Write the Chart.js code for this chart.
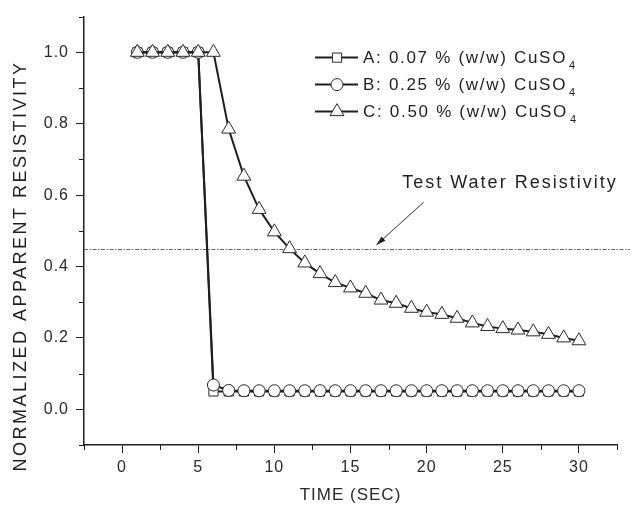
<!DOCTYPE html>
<html lang="en">
<head>
<meta charset="UTF-8">
<title>Normalized Apparent Resistivity</title>
<script src="https://cdn.jsdelivr.net/npm/chart.js"></script>
<style>
    html, body {
        margin: 0;
        padding: 0;
        background: #fff;
    }
    #wrap {
        width: 633px;
        height: 510px;
    }
</style>
</head>
<body>
<div id="wrap"><canvas id="chart"></canvas></div>
<script>
// time axis (seconds)
const timeSec = [1, 2, 3, 4, 5, 6, 7, 8, 9, 10, 11, 12, 13, 14, 15, 16, 17, 18, 19, 20,
                 21, 22, 23, 24, 25, 26, 27, 28, 29, 30];

// A: 0.07 % CuSO4
const seriesA = [1, 1, 1, 1, 1, 0.05, 0.05, 0.05, 0.05, 0.05, 0.05, 0.05, 0.05, 0.05, 0.05,
                 0.05, 0.05, 0.05, 0.05, 0.05, 0.05, 0.05, 0.05, 0.05, 0.05, 0.05, 0.05, 0.05, 0.05, 0.05];
// B: 0.25 % CuSO4
const seriesB = [1, 1, 1, 1, 1, 0.068, 0.053, 0.052, 0.052, 0.052, 0.052, 0.052, 0.052, 0.052, 0.052,
                 0.052, 0.052, 0.052, 0.052, 0.052, 0.052, 0.052, 0.052, 0.052, 0.052, 0.052, 0.052, 0.052, 0.052, 0.052];
// C: 0.50 % CuSO4
const seriesC = [1, 1, 1, 1, 1, 1, 0.785, 0.653, 0.56, 0.497, 0.45, 0.41, 0.38, 0.355, 0.34,
                 0.325, 0.306, 0.297, 0.283, 0.272, 0.266, 0.255, 0.242, 0.232, 0.226, 0.222, 0.217, 0.21, 0.2, 0.192];

const seriesNames = ['A: 0.07 % (w/w) CuSO', 'B: 0.25 % (w/w) CuSO', 'C: 0.50 % (w/w) CuSO'];
const seriesMarkers = ['rect', 'circle', 'triangle'];

const xTicks = [0, 5, 10, 15, 20, 25, 30];
const yTicks = [0.0, 0.2, 0.4, 0.6, 0.8, 1.0];

// reference level + its label / arrow (data units)
const testWaterLevel = 0.45;
const testWaterLabel = 'Test Water Resistivity';
const labelAt = [18.4, 0.62];
const arrowFrom = [19.8, 0.58];
const arrowTo = [16.7, 0.46];

const INK = '#1f1f1f';
const FONT = "'Liberation Sans', Arial, sans-serif";

function toPoints(ys) {
    return timeSec.map((t, i) => ({ x: t, y: ys[i] }));
}

function isMajorX(v) { return xTicks.some(t => Math.abs(t - v) < 1e-6); }
function isMajorY(v) { return yTicks.some(t => Math.abs(t - v) < 1e-6); }

const datasetStyle = (marker, r, order) => ({
    borderColor: INK,
    borderWidth: 2,
    pointStyle: marker,
    pointRadius: r,
    pointHoverRadius: r,
    pointBackgroundColor: '#fff',
    pointBorderColor: '#2a2a2a',
    pointBorderWidth: 1,
    tension: 0,
    fill: false,
    order: order
});

// letter spacing for every text the chart draws
const spacingPlugin = {
    id: 'spacing',
    beforeDraw(chart) {
        chart.ctx.letterSpacing = '1px';
    }
};

// dashed reference line (runs under the data)
const refLinePlugin = {
    id: 'refLine',
    beforeDatasetsDraw(chart) {
        const { ctx, chartArea, scales } = chart;
        const y = Math.round(scales.y.getPixelForValue(testWaterLevel)) + 0.5;
        ctx.save();
        ctx.strokeStyle = '#666';
        ctx.lineWidth = 1;
        ctx.setLineDash([4, 1.5, 1.5, 1.5]);
        ctx.beginPath();
        ctx.moveTo(chartArea.left, y);
        ctx.lineTo(chart.width - 3, y);
        ctx.stroke();
        ctx.restore();
    }
};

// minor ticks, annotation, legend, y title
const decorPlugin = {
    id: 'decor',
    afterDraw(chart) {
        const { ctx, chartArea, scales } = chart;
        const xs = scales.x, ys = scales.y;
        ctx.save();
        ctx.strokeStyle = INK;
        ctx.lineWidth = 1;
        xs.ticks.forEach(t => {
            if (isMajorX(t.value)) return;
            const px = Math.round(xs.getPixelForValue(t.value)) + 0.5;
            ctx.beginPath();
            ctx.moveTo(px, chartArea.bottom);
            ctx.lineTo(px, chartArea.bottom + 5);
            ctx.stroke();
        });
        ys.ticks.forEach(t => {
            if (isMajorY(t.value)) return;
            const py = Math.round(ys.getPixelForValue(t.value)) + 0.5;
            ctx.beginPath();
            ctx.moveTo(chartArea.left, py);
            ctx.lineTo(chartArea.left - 5, py);
            ctx.stroke();
        });

        // annotation
        ctx.fillStyle = INK;
        ctx.letterSpacing = '2px';
        ctx.font = '18px ' + FONT;
        ctx.textAlign = 'left';
        ctx.textBaseline = 'alphabetic';
        ctx.fillText(testWaterLabel, xs.getPixelForValue(labelAt[0]), ys.getPixelForValue(labelAt[1]));

        const ax0 = xs.getPixelForValue(arrowFrom[0]), ay0 = ys.getPixelForValue(arrowFrom[1]);
        const ax1 = xs.getPixelForValue(arrowTo[0]), ay1 = ys.getPixelForValue(arrowTo[1]);
        const ang = Math.atan2(ay1 - ay0, ax1 - ax0);
        ctx.strokeStyle = '#333';
        ctx.beginPath();
        ctx.moveTo(ax0, ay0);
        ctx.lineTo(ax1, ay1);
        ctx.stroke();
        ctx.beginPath();
        ctx.moveTo(ax1, ay1);
        ctx.lineTo(ax1 - 10 * Math.cos(ang - 0.3), ay1 - 10 * Math.sin(ang - 0.3));
        ctx.lineTo(ax1 - 10 * Math.cos(ang + 0.3), ay1 - 10 * Math.sin(ang + 0.3));
        ctx.closePath();
        ctx.fill();

        // legend
        const lx = chartArea.left + 231;
        chart.data.datasets.forEach((ds, i) => {
            const ly = chartArea.top + 41 + i * 27;
            ctx.strokeStyle = INK;
            ctx.lineWidth = 2;
            ctx.beginPath();
            ctx.moveTo(lx, ly);
            ctx.lineTo(lx + 43, ly);
            ctx.stroke();
            ctx.fillStyle = '#fff';
            ctx.strokeStyle = '#2a2a2a';
            ctx.lineWidth = 1;
            Chart.helpers.drawPoint(ctx, {
                pointStyle: ds.pointStyle,
                radius: ds.pointRadius,
                borderWidth: 1
            }, lx + 22, ly);
            ctx.fillStyle = INK;
            ctx.font = '17px ' + FONT;
            ctx.letterSpacing = '1.7px';
            ctx.textBaseline = 'middle';
            ctx.fillText(seriesNames[i], lx + 48, ly + 1);
            const w = ctx.measureText(seriesNames[i]).width;
            ctx.font = '11px ' + FONT;
            ctx.letterSpacing = '0px';
            ctx.fillText('4', lx + 48 + w + 2, ly + 8);
        });

        // y axis title
        ctx.translate(21, 266);
        ctx.rotate(-Math.PI / 2);
        ctx.font = '18px ' + FONT;
        ctx.letterSpacing = '2.5px';
        ctx.textAlign = 'center';
        ctx.textBaseline = 'middle';
        ctx.fillText('NORMALIZED APPARENT RESISTIVITY', 0, 0);
        ctx.restore();
    }
};

const ctx = document.getElementById('chart').getContext('2d');

const chart = new Chart(ctx, {
    type: 'line',
    data: {
        datasets: [
            { label: seriesNames[0], data: toPoints(seriesA), ...datasetStyle(seriesMarkers[0], 6.5, 3) },
            { label: seriesNames[1], data: toPoints(seriesB), ...datasetStyle(seriesMarkers[1], 6, 2) },
            { label: seriesNames[2], data: toPoints(seriesC), ...datasetStyle(seriesMarkers[2], 8, 1) }
        ]
    },
    options: {
        responsive: true,
        maintainAspectRatio: false,
        animation: false,
        events: [],
        layout: { padding: { top: 13, right: 16, left: 0, bottom: 0 } },
        plugins: {
            legend: { display: false },
            tooltip: { enabled: false }
        },
        scales: {
            x: {
                type: 'linear',
                min: -2.5,
                max: 32.5,
                afterFit: s => { s.height = 65; },
                border: { color: INK, width: 1.5 },
                grid: {
                    drawOnChartArea: false,
                    tickLength: 8,
                    tickWidth: 1,
                    tickColor: c => isMajorX(c.tick.value) ? INK : 'rgba(0,0,0,0)'
                },
                ticks: {
                    stepSize: 2.5,
                    autoSkip: false,
                    maxRotation: 0,
                    padding: 5,
                    color: '#2a2a2a',
                    font: { family: FONT, size: 16 },
                    callback: v => isMajorX(v) ? String(v) : ''
                },
                title: {
                    display: true,
                    text: 'TIME (SEC)',
                    color: '#2a2a2a',
                    font: { family: FONT, size: 17 },
                    padding: { top: 0, bottom: 4 }
                }
            },
            y: {
                type: 'linear',
                min: -0.1,
                max: 1.1,
                afterFit: s => { s.width = 84; },
                border: { color: INK, width: 1.5 },
                grid: {
                    drawOnChartArea: false,
                    tickLength: 8,
                    tickWidth: 1,
                    tickColor: c => isMajorY(c.tick.value) ? INK : 'rgba(0,0,0,0)'
                },
                ticks: {
                    stepSize: 0.1,
                    autoSkip: false,
                    padding: 7,
                    color: '#2a2a2a',
                    font: { family: FONT, size: 16 },
                    callback: v => isMajorY(v) ? v.toFixed(1) : ''
                }
            }
        }
    },
    plugins: [spacingPlugin, refLinePlugin, decorPlugin]
});
</script>
</body>
</html>
